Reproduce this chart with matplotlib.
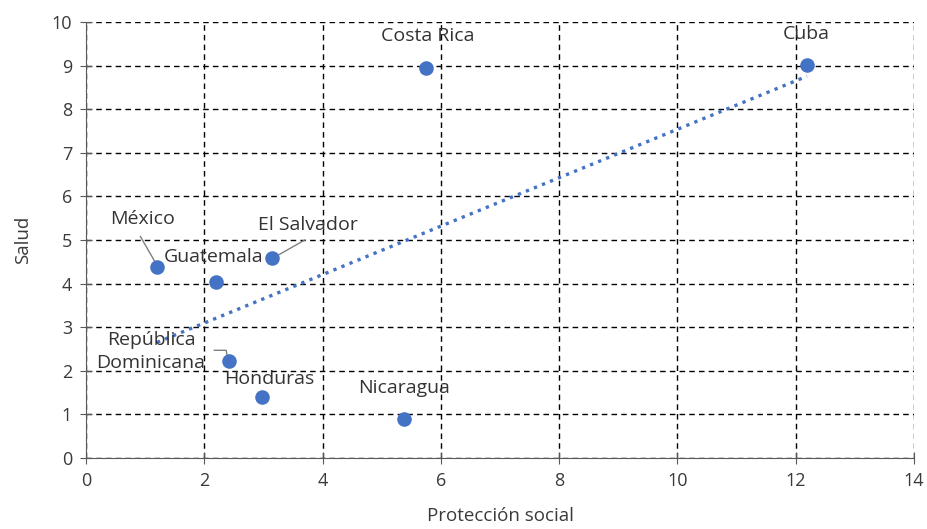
import numpy as np
import matplotlib
matplotlib.use("Agg")
import matplotlib.pyplot as plt

plt.rcParams['font.family'] = ['Open Sans', 'DejaVu Sans']

# Índices por país
paises = ['México', 'Guatemala', 'El Salvador', 'Costa Rica', 'Cuba',
          'República\nDominicana', 'Honduras', 'Nicaragua']
proteccion = [1.20, 2.20, 3.15, 5.75, 12.19, 2.42, 2.98, 5.38]
salud = [4.38, 4.04, 4.59, 8.94, 9.01, 2.22, 1.40, 0.89]

azul = '#4472C4'

fig = plt.figure(figsize=(9.27, 5.29), dpi=100)
ax = fig.add_axes([86 / 927, 71 / 529, 828 / 927, 436 / 529])

ax.scatter(proteccion, salud, s=110, color=azul, zorder=3, linewidths=0)

# linea de tendencia lineal
m, b = np.polyfit(proteccion, salud, 1)
xt = np.array([min(proteccion), max(proteccion)])
ax.plot(xt, m * xt + b, color=azul, linestyle=(0, (1, 1.6)), linewidth=2.4, zorder=2)

ax.set_xlim(0, 14)
ax.set_ylim(0, 10)
ax.set_xticks(range(0, 15, 2))
ax.set_yticks(range(0, 11))
ax.grid(True, color='black', linestyle=(0, (4, 3)), linewidth=1)
ax.set_axisbelow(True)
for s in ['top', 'right']:
    ax.spines[s].set_visible(False)
for s in ['left', 'bottom']:
    ax.spines[s].set_color('#595959')
ax.tick_params(direction='inout', length=8, color='#595959', labelsize=13,
               labelcolor='#3a3a3a')
ax.tick_params(axis='y', pad=6)
ax.tick_params(axis='x', pad=6)

ax.set_xlabel('Protección social', fontsize=13.5, color='#3a3a3a', labelpad=12)
ax.set_ylabel('Salud', fontsize=13.5, color='#3a3a3a', labelpad=14)

# etiquetas de los puntos
txt = dict(fontsize=14, color='#333333', ha='center', va='center', zorder=4)
pos = {
    'México': (0.95, 5.48),
    'Guatemala': (2.15, 4.6),
    'El Salvador': (3.75, 5.35),
    'Costa Rica': (5.77, 9.68),
    'Cuba': (12.18, 9.72),
    'República\nDominicana': (1.1, 2.44),
    'Honduras': (3.1, 1.81),
    'Nicaragua': (5.38, 1.6),
}
for p, x, y in zip(paises, proteccion, salud):
    tx, ty = pos[p]
    ax.text(tx, ty, p, linespacing=1.4, **txt)

# lineas guia
gris = '#7f7f7f'
ax.plot([0.92, 1.2], [5.08, 4.42], color=gris, lw=1, zorder=2)
ax.plot([3.7, 3.18], [5.0, 4.6], color=gris, lw=1, zorder=2)
ax.plot([2.17, 2.37, 2.4], [2.47, 2.47, 2.25], color=gris, lw=1, zorder=2)

fig.savefig('out.png', dpi=100)
